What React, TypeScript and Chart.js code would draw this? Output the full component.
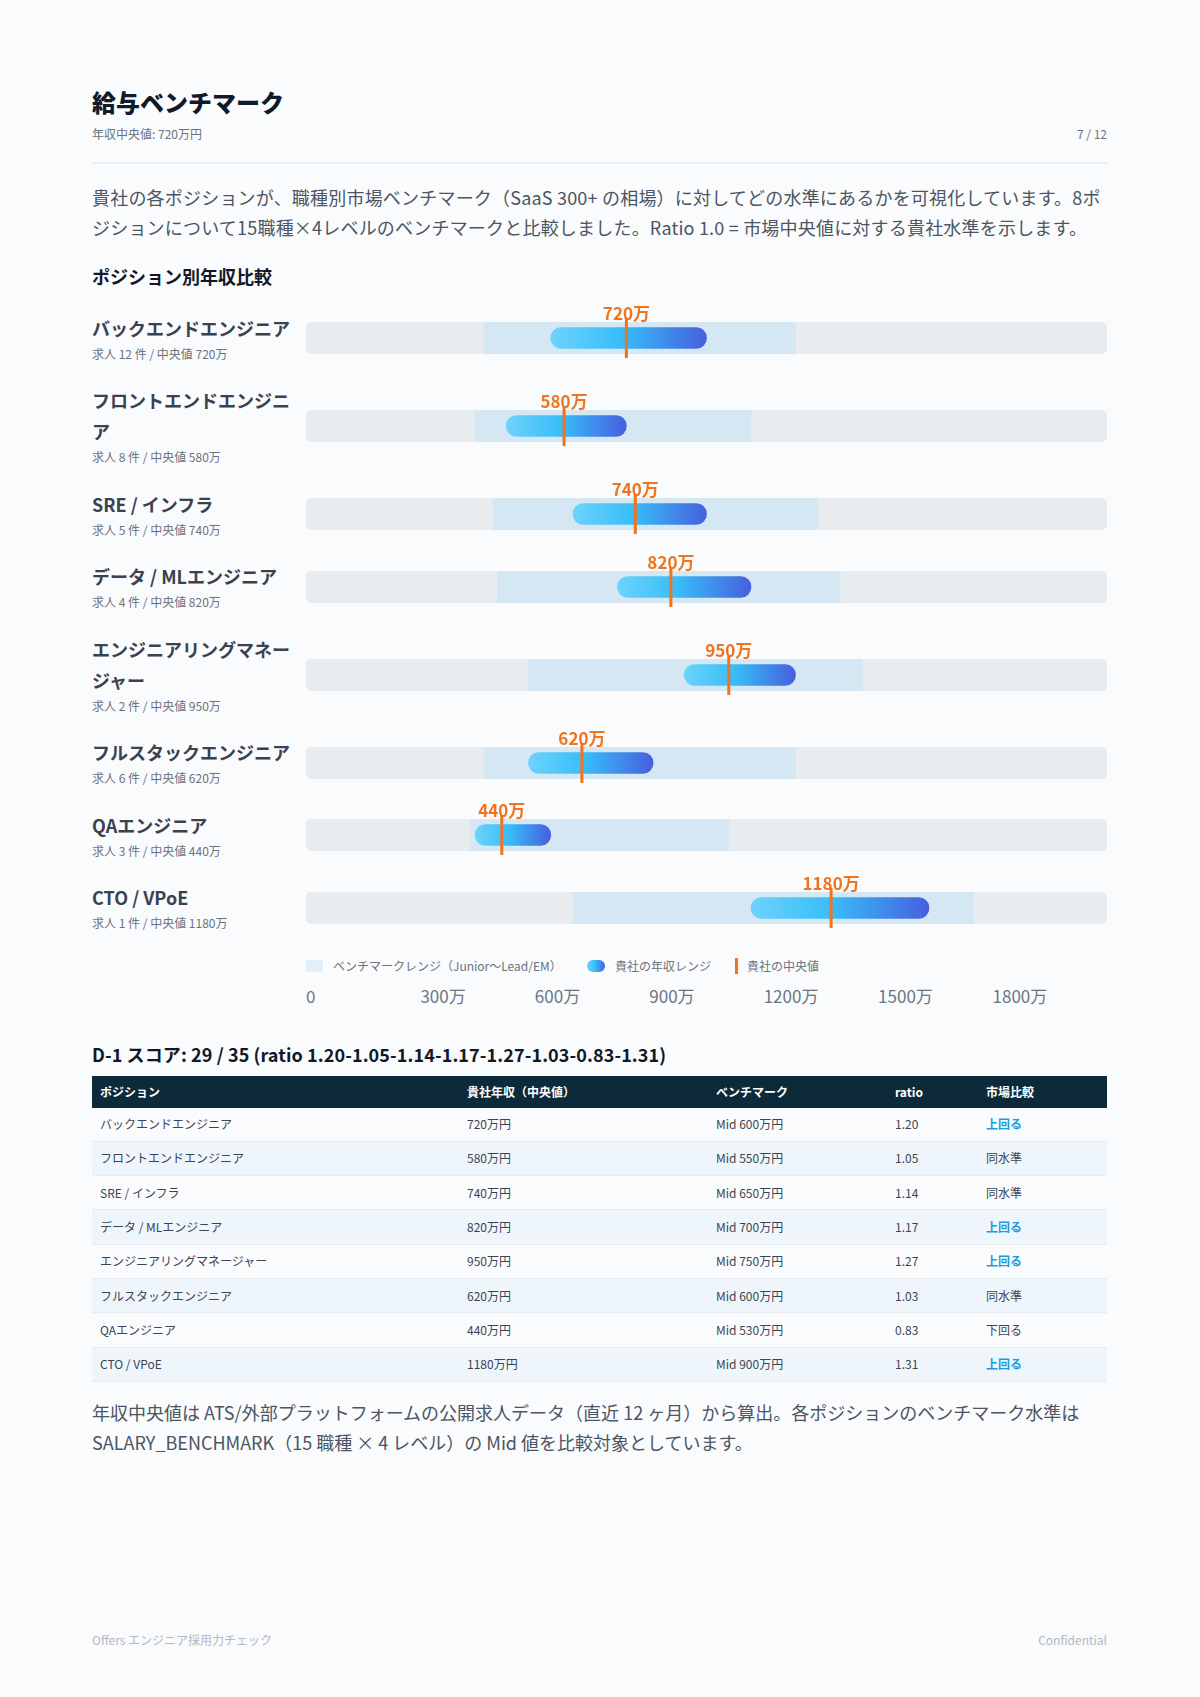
import React, { useEffect, useRef } from 'react';
import { Chart, registerables } from 'chart.js';

Chart.register(...registerables);

// ---- data ----
const positions = [
  'バックエンドエンジニア',
  'フロントエンドエンジニア',
  'SRE / インフラ',
  'データ / MLエンジニア',
  'エンジニアリングマネージャー',
  'フルスタックエンジニア',
  'QAエンジニア',
  'CTO / VPoE',
];
const postingCounts = [12, 8, 5, 4, 2, 6, 3, 1];
const companyMedian = [720, 580, 740, 820, 950, 620, 440, 1180];
const companyLow = [550, 450, 600, 700, 850, 500, 380, 1000];
const companyHigh = [900, 720, 900, 1000, 1100, 780, 550, 1400];
const benchLow = [400, 380, 420, 430, 500, 400, 370, 600];
const benchHigh = [1100, 1000, 1150, 1200, 1250, 1100, 950, 1500];
const benchMid = [600, 550, 650, 700, 750, 600, 530, 900];
const verdicts = ['上回る', '同水準', '同水準', '上回る', '上回る', '同水準', '下回る', '上回る'];
const axisTicks = [0, 300, 600, 900, 1200, 1500, 1800];
const AXIS_MAX = 1800;

const ratios = companyMedian.map((v, i) => (v / benchMid[i]).toFixed(2));

// ---- styling ----
const FONT = '"Noto Sans CJK JP", "Noto Sans", sans-serif';
const PAGE_BG = '#fafbfc';
const TRACK = '#e8ecef';
const BAND = '#d5e7f2';
const ORANGE = '#f0741d';
const GRAD = ['#6dd3fc', '#38bdf8', '#4660df'];
const TEXT_GRAY = '#4b5563';
const SUB_GRAY = '#6b7280';

const rangeFill = (ctx: any) => {
  const chart = ctx.chart;
  if (!chart.chartArea || !ctx.raw) return GRAD[1];
  const v = ctx.raw as number[];
  const x0 = chart.scales.x.getPixelForValue(v[0]);
  const x1 = chart.scales.x.getPixelForValue(v[1]);
  const g = chart.ctx.createLinearGradient(x0, 0, x1, 0);
  g.addColorStop(0, GRAD[0]);
  g.addColorStop(0.45, GRAD[1]);
  g.addColorStop(1, GRAD[2]);
  return g;
};

// writes the median value above its marker
const medianLabelPlugin = {
  id: 'medianLabel',
  afterDatasetsDraw(chart: any) {
    const meta = chart.getDatasetMeta(3);
    const pt = meta.data[0];
    if (!pt) return;
    const raw = chart.data.datasets[3].data[0] as { x: number };
    const { ctx, chartArea } = chart;
    ctx.save();
    ctx.font = `bold 17px ${FONT}`;
    ctx.fillStyle = ORANGE;
    ctx.textAlign = 'center';
    ctx.textBaseline = 'alphabetic';
    ctx.fillText(`${raw.x}万`, pt.x, chartArea.top - 2);
    ctx.restore();
  },
};

const TRACK_W = 801;
const TRACK_H = 32;
const PAD_TOP = 22;
const PAD_BOTTOM = 6;

function RangeRow({ i }: { i: number }) {
  const ref = useRef<HTMLCanvasElement>(null);
  useEffect(() => {
    const canvas = ref.current;
    if (!canvas) return;
    const name = positions[i];
    const chart = new Chart(canvas, {
      type: 'bar',
      data: {
        labels: [name],
        datasets: [
          {
            label: 'track',
            data: [[0, AXIS_MAX]],
            backgroundColor: TRACK,
            borderRadius: 6,
            borderSkipped: false,
            barPercentage: 1,
            categoryPercentage: 1,
            grouped: false,
            order: 4,
          } as any,
          {
            label: 'ベンチマークレンジ',
            data: [[benchLow[i], benchHigh[i]]],
            backgroundColor: BAND,
            borderSkipped: false,
            barPercentage: 1,
            categoryPercentage: 1,
            grouped: false,
            order: 3,
          } as any,
          {
            label: '貴社の年収レンジ',
            data: [[companyLow[i], companyHigh[i]]],
            backgroundColor: rangeFill,
            borderRadius: 11,
            borderSkipped: false,
            barThickness: 21,
            grouped: false,
            order: 2,
          } as any,
          {
            type: 'line',
            label: '貴社の中央値',
            data: [{ x: companyMedian[i], y: name }],
            showLine: false,
            pointStyle: 'line',
            pointRadius: 20,
            pointRotation: 90,
            pointBorderWidth: 3,
            pointBorderColor: ORANGE,
            pointBackgroundColor: ORANGE,
            clip: false,
            order: 1,
          } as any,
        ],
      },
      options: {
        indexAxis: 'y',
        animation: false,
        responsive: false,
        events: [],
        layout: { autoPadding: false, padding: { top: PAD_TOP, bottom: PAD_BOTTOM, left: 0, right: 0 } },
        scales: {
          x: { type: 'linear', min: 0, max: AXIS_MAX, display: false },
          y: { type: 'category', display: false },
        },
        plugins: { legend: { display: false }, tooltip: { enabled: false } },
      } as any,
      plugins: [medianLabelPlugin],
    });
    return () => chart.destroy();
  }, [i]);

  return (
    <div style={{ display: 'flex', alignItems: 'center', marginBottom: i < positions.length - 1 ? 21.5 : 0 }}>
      <div style={{ width: 200, marginRight: 14, flexShrink: 0 }}>
        <div style={{ fontSize: 18, lineHeight: '31px', fontWeight: 700, color: '#3a4250' }}>{positions[i]}</div>
        <div style={{ fontSize: 12, lineHeight: '20px', color: SUB_GRAY }}>
          求人 {postingCounts[i]} 件 / 中央値 {companyMedian[i]}万
        </div>
      </div>
      <div style={{ position: 'relative', width: TRACK_W, height: TRACK_H, flexShrink: 0 }}>
        <canvas
          ref={ref}
          width={TRACK_W}
          height={TRACK_H + PAD_TOP + PAD_BOTTOM}
          style={{ position: 'absolute', left: 0, top: -PAD_TOP, width: TRACK_W, height: TRACK_H + PAD_TOP + PAD_BOTTOM }}
        />
      </div>
    </div>
  );
}

const th: React.CSSProperties = {
  textAlign: 'left',
  fontWeight: 700,
  color: '#ffffff',
  fontSize: 12,
  padding: '0 8px',
  height: 31.5,
};

export default function App() {
  useEffect(() => {
    document.body.style.margin = '0';
    document.body.style.background = PAGE_BG;
  }, []);

  const colWidths = [367, 249, 179, 91, 129];

  return (
    <div
      style={{
        position: 'relative',
        width: 1200,
        height: 1697,
        background: PAGE_BG,
        fontFamily: FONT,
        overflow: 'hidden',
      }}
    >
      <div style={{ position: 'absolute', left: 92, top: 85, fontSize: 24, lineHeight: '34px', fontWeight: 900, color: '#0f1a2c' }}>
        給与ベンチマーク
      </div>
      <div
        style={{
          position: 'absolute',
          left: 92,
          right: 93,
          top: 125,
          fontSize: 12,
          lineHeight: '18px',
          color: SUB_GRAY,
          display: 'flex',
          justifyContent: 'space-between',
        }}
      >
        <span>年収中央値: 720万円</span>
        <span>7 / 12</span>
      </div>
      <div style={{ position: 'absolute', left: 92, right: 93, top: 162, height: 2, background: '#e6f1f9' }} />

      <p
        style={{
          position: 'absolute',
          left: 92,
          width: 1015,
          top: 182,
          margin: 0,
          fontSize: 18,
          lineHeight: '30px',
          letterSpacing: '0.2px',
          color: TEXT_GRAY,
        }}
      >
        貴社の各ポジションが、職種別市場ベンチマーク（SaaS 300+ の相場）に対してどの水準にあるかを可視化しています。8ポジションについて15職種×4レベルのベンチマークと比較しました。Ratio 1.0 = 市場中央値に対する貴社水準を示します。
      </p>

      <div style={{ position: 'absolute', left: 92, top: 264, fontSize: 18, lineHeight: '24px', fontWeight: 700, color: '#111827' }}>
        ポジション別年収比較
      </div>

      <div style={{ position: 'absolute', left: 92, width: 1015, top: 312.5 }}>
        {positions.map((_, i) => (
          <RangeRow key={i} i={i} />
        ))}
      </div>

      {/* legend */}
      <div style={{ position: 'absolute', left: 306, top: 958, height: 16, width: 801, fontSize: 12, color: SUB_GRAY }}>
        <div style={{ position: 'absolute', left: 0, top: 0, display: 'flex', alignItems: 'center', height: 16 }}>
          <span style={{ display: 'inline-block', width: 17, height: 12, background: '#e2f0fa', marginRight: 10 }} />
          <span style={{ lineHeight: '16px' }}>ベンチマークレンジ（Junior〜Lead/EM）</span>
        </div>
        <div style={{ position: 'absolute', left: 281, top: 0, display: 'flex', alignItems: 'center', height: 16 }}>
          <span
            style={{
              display: 'inline-block',
              width: 18,
              height: 12,
              borderRadius: 6,
              background: `linear-gradient(90deg, ${GRAD[0]}, ${GRAD[1]} 45%, ${GRAD[2]})`,
              marginRight: 10,
            }}
          />
          <span style={{ lineHeight: '16px' }}>貴社の年収レンジ</span>
        </div>
        <div style={{ position: 'absolute', left: 429, top: 0, display: 'flex', alignItems: 'center', height: 16 }}>
          <span style={{ display: 'inline-block', width: 3, height: 16, background: ORANGE, marginRight: 9 }} />
          <span style={{ lineHeight: '16px' }}>貴社の中央値</span>
        </div>
      </div>

      {/* value axis labels */}
      <div style={{ position: 'absolute', left: 306, top: 983.5, width: 801, display: 'flex', fontSize: 17, lineHeight: '24px', color: '#6b7685' }}>
        {axisTicks.map((t) => (
          <div key={t} style={{ flex: 1 }}>
            {t === 0 ? '0' : `${t}万`}
          </div>
        ))}
      </div>

      <div style={{ position: 'absolute', left: 92, top: 1042, fontSize: 18, lineHeight: '24px', fontWeight: 700, letterSpacing: '0.1px', color: '#111827' }}>
        D-1 スコア: 29 / 35 (ratio {ratios.join('-')})
      </div>

      <table
        style={{
          position: 'absolute',
          left: 92,
          top: 1076,
          width: 1015,
          borderCollapse: 'collapse',
          tableLayout: 'fixed',
          fontSize: 12,
          color: '#3d4451',
        }}
      >
        <colgroup>
          {colWidths.map((w, k) => (
            <col key={k} style={{ width: w }} />
          ))}
        </colgroup>
        <thead>
          <tr style={{ background: '#0d2a3a' }}>
            <th style={th}>ポジション</th>
            <th style={th}>貴社年収（中央値）</th>
            <th style={th}>ベンチマーク</th>
            <th style={th}>ratio</th>
            <th style={th}>市場比較</th>
          </tr>
        </thead>
        <tbody>
          {positions.map((p, i) => {
            const td: React.CSSProperties = {
              padding: '0 8px',
              height: 33.3,
              borderBottom: '1px solid #e6ebf0',
              lineHeight: '18px',
            };
            const up = verdicts[i] === '上回る';
            return (
              <tr key={p} style={{ background: i % 2 === 1 ? '#eef6fc' : 'transparent' }}>
                <td style={td}>{p}</td>
                <td style={td}>{companyMedian[i]}万円</td>
                <td style={td}>Mid {benchMid[i]}万円</td>
                <td style={td}>{ratios[i]}</td>
                <td style={{ ...td, color: up ? '#1b9dd9' : '#3d4451', fontWeight: up ? 700 : 400 }}>{verdicts[i]}</td>
              </tr>
            );
          })}
        </tbody>
      </table>

      <p style={{ position: 'absolute', left: 92, width: 1015, top: 1397, margin: 0, fontSize: 18, lineHeight: '30px', color: TEXT_GRAY }}>
        年収中央値は ATS/外部プラットフォームの公開求人データ（直近 12 ヶ月）から算出。各ポジションのベンチマーク水準は SALARY_BENCHMARK（15 職種 × 4 レベル）の Mid 値を比較対象としています。
      </p>

      <div
        style={{
          position: 'absolute',
          left: 92,
          right: 93,
          top: 1631,
          fontSize: 12,
          lineHeight: '18px',
          color: '#b1b8c3',
          display: 'flex',
          justifyContent: 'space-between',
        }}
      >
        <span>Offers エンジニア採用力チェック</span>
        <span>Confidential</span>
      </div>
    </div>
  );
}
